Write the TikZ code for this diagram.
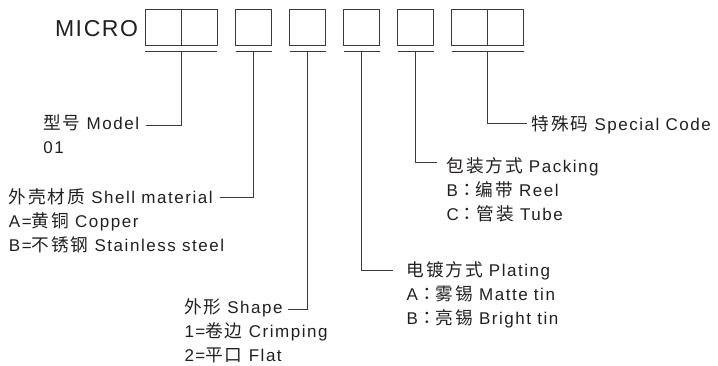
\documentclass[tikz,border=0pt]{standalone}
\usepackage{fontspec}
\setmainfont{Liberation Sans}[LetterSpace=9]
\newfontfamily\cjk{Noto Sans CJK SC}[Scale=1.04,LetterSpace=10]
\newfontfamily\cjkp{Noto Sans CJK JP}[Scale=1.04]
\newfontfamily\microfont{Liberation Sans}[LetterSpace=7]
\definecolor{ink}{HTML}{231F20}
\definecolor{rule}{HTML}{3A3A3A}
\tikzset{
  box/.style={draw=rule, line width=0.9pt, minimum width=36pt, minimum height=36pt, inner sep=0pt, outer sep=0pt, anchor=north west},
  lbl/.style={anchor=base west, inner sep=0pt, outer sep=0pt, text=ink, font=\fontsize{17}{20}\selectfont},
  conn/.style={draw=rule, line width=0.8pt},
}
\begin{document}
\begin{tikzpicture}[x=1pt,y=-1pt]
\useasboundingbox (0,0) rectangle (718,365);
% title
\node[lbl, font=\microfont\fontsize{23}{27}\selectfont] (micro) at (55,36) {MICRO};
% boxes
\node[box] (b1a) at (145,9) {};
\node[box] (b1b) at (181,9) {};
\node[box] (b2) at (235.5,9) {};
\node[box] (b3) at (289.5,9) {};
\node[box] (b4) at (343.5,9) {};
\node[box] (b5) at (397.5,9) {};
\node[box] (b6a) at (451.5,9) {};
\node[box] (b6b) at (487.5,9) {};
% underlines
\draw[conn] ([yshift=-6.7pt]b1a.south west) -- ([yshift=-6.7pt]b1b.south east);
\draw[conn] ([yshift=-6.7pt]b2.south west) -- ([yshift=-6.7pt]b2.south east);
\draw[conn] ([yshift=-6.7pt]b3.south west) -- ([yshift=-6.7pt]b3.south east);
\draw[conn] ([yshift=-6.7pt]b4.south west) -- ([yshift=-6.7pt]b4.south east);
\draw[conn] ([yshift=-6.7pt]b5.south west) -- ([yshift=-6.7pt]b5.south east);
\draw[conn] ([yshift=-6.7pt]b6a.south west) -- ([yshift=-6.7pt]b6b.south east);
% labels
\node[lbl] (model) at (43.3,129.5) {{\cjk 型号} Model};
\node[lbl] (model1) at (43.3,153.5) {01};
\node[lbl] (shell) at (9,203.5) {{\cjk 外壳材质} Shell material};
\node[lbl] (shell1) at (9,227.7) {A={\cjk 黄铜} Copper};
\node[lbl] (shell2) at (9,251.9) {B={\cjk 不锈钢} Stainless steel};
\node[lbl] (shape) at (184,313.5) {{\cjk 外形} Shape};
\node[lbl] (shape1) at (184.5,337.5) {1={\cjk 卷边} Crimping};
\node[lbl] (shape2) at (184.5,361.5) {2={\cjk 平口} Flat};
\node[lbl] (plat) at (406.7,276.5) {{\cjk 电镀方式} Plating};
\node[lbl] (plat1) at (406.7,300.5) {A{\cjkp ：}{\cjk 雾锡} Matte tin};
\node[lbl] (plat2) at (406.7,324.5) {B{\cjkp ：}{\cjk 亮锡} Bright tin};
\node[lbl] (pack) at (446.7,172) {{\cjk 包装方式} Packing};
\node[lbl] (pack1) at (446.7,196) {B{\cjkp ：}{\cjk 编带} Reel};
\node[lbl] (pack2) at (446.7,220) {C{\cjkp ：}{\cjk 管装} Tube};
\node[lbl] (spec) at (531.7,130) {{\cjk 特殊码} Special Code};
% connector ends
\coordinate (emodel) at (146,125.5);
\coordinate (eshell) at (220,197.3);
\coordinate (eshape) at (288,309);
\coordinate (eplat) at (393,270);
\coordinate (epack) at (436.7,162.5);
\coordinate (espec) at (526.5,123.3);
% connectors
\draw[conn] ([yshift=-6.7pt]b1a.south east) |- (emodel);
\draw[conn] ([yshift=-6.7pt]b2.south) |- (eshell);
\draw[conn] ([yshift=-6.7pt]b3.south) |- (eshape);
\draw[conn] ([yshift=-6.7pt]b4.south) |- (eplat);
\draw[conn] ([yshift=-6.7pt]b5.south) |- (epack);
\draw[conn] ([yshift=-6.7pt]b6a.south east) |- (espec);
\end{tikzpicture}
\end{document}
